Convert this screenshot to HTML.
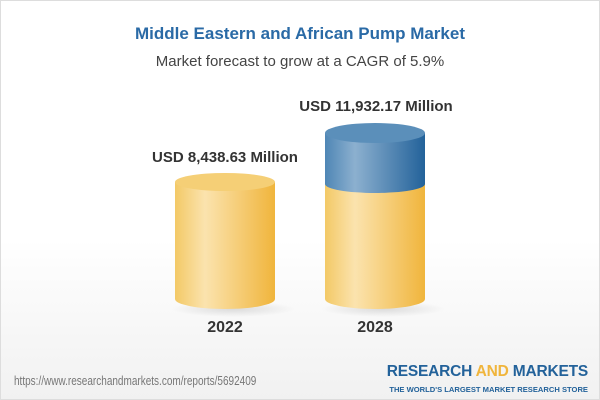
<!DOCTYPE html>
<html><head><meta charset="utf-8"><style>
body{margin:0}
#c{position:relative;width:598px;height:398px;border:1px solid #ddd;background:linear-gradient(#fff 0%,#fff 60%,#f1f1f1 100%);font-family:"Liberation Sans",sans-serif;overflow:hidden}
.t{position:absolute;left:0;width:598px;text-align:center}
</style></head><body><div id="c">
<div class="t" style="top:23px;font-size:17px;font-weight:bold;color:#2a6aa6">Middle Eastern and African Pump Market</div>
<div class="t" style="top:52px;font-size:15px;color:#444">Market forecast to grow at a CAGR of 5.9%</div>
<svg width="598" height="398" style="position:absolute;left:0;top:0">
<defs>
<linearGradient id="y" x1="0" x2="1"><stop offset="0" stop-color="#f3c966"/><stop offset=".3" stop-color="#fbe3ae"/><stop offset="1" stop-color="#f0b53c"/></linearGradient>
<linearGradient id="b" x1="0" x2="1"><stop offset="0" stop-color="#4f86b5"/><stop offset=".3" stop-color="#8cb0cf"/><stop offset="1" stop-color="#23629a"/></linearGradient>
<radialGradient id="s" cx=".5" cy=".5" r=".5"><stop offset="0" stop-color="#000" stop-opacity=".12"/><stop offset="1" stop-color="#000" stop-opacity="0"/></radialGradient>
</defs>
<ellipse cx="232" cy="308" rx="62" ry="8" fill="url(#s)"/>
<ellipse cx="382" cy="308" rx="62" ry="8" fill="url(#s)"/>
<path d="M174 181 V298 A50 10 0 0 0 274 298 V181 Z" fill="url(#y)"/>
<ellipse cx="224" cy="181" rx="50" ry="9" fill="#f5cf76"/>
<path d="M324 183 V298 A50 10 0 0 0 424 298 V183 Z" fill="url(#y)"/>
<path d="M324 132 V183 A50 9 0 0 0 424 183 V132 Z" fill="url(#b)"/>
<ellipse cx="374" cy="132" rx="50" ry="10" fill="#5b8fba"/>
</svg>
<div class="t" style="top:148px;left:-75px;font-size:15px;font-weight:bold;color:#333">USD 8,438.63 Million</div>
<div class="t" style="top:97px;left:76px;font-size:15px;font-weight:bold;color:#333">USD 11,932.17 Million</div>
<div class="t" style="top:318px;left:-75px;font-size:16px;font-weight:bold;color:#333">2022</div>
<div class="t" style="top:318px;left:75px;font-size:16px;font-weight:bold;color:#333">2028</div>
<div style="position:absolute;left:13px;top:373px;font-size:12.5px;color:#777;transform:scaleX(.8);transform-origin:left;white-space:nowrap">https://www.researchandmarkets.com/reports/5692409</div>
<div style="position:absolute;left:385px;top:362px;width:202px;text-align:right;font-size:15.5px;font-weight:bold;color:#23629a;letter-spacing:-.2px;white-space:nowrap">RESEARCH <span style="color:#f0b53c">AND</span> MARKETS</div>
<div style="position:absolute;left:385px;top:384px;width:202px;text-align:right;font-size:7.6px;font-weight:bold;color:#23629a;white-space:nowrap">THE WORLD'S LARGEST MARKET RESEARCH STORE</div>
</div></body></html>
